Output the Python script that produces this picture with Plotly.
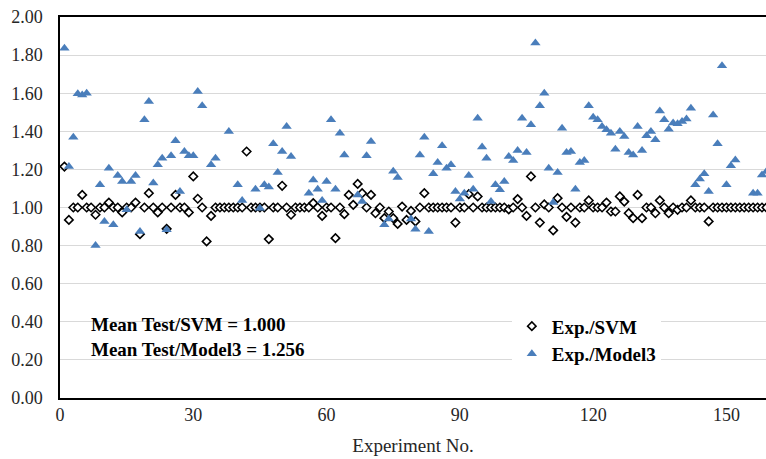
import plotly.graph_objects as go

# Experiment numbers (categories)
experiment_no = list(range(1, 160))

# Exp./SVM ratio per experiment
exp_svm = [
    1.215, 0.935, 1.000, 1.000, 1.066, 1.000, 1.000, 0.962, 1.000, 1.000,
    1.026, 1.000, 1.000, 0.974, 1.000, 1.000, 1.026, 0.860, 1.000, 1.075,
    1.000, 0.974, 1.000, 0.888, 1.000, 1.066, 1.000, 1.000, 0.974, 1.163,
    1.046, 1.000, 0.822, 0.956, 1.000, 1.000, 1.000, 1.000, 1.000, 1.000,
    1.000, 1.294, 1.000, 1.000, 1.000, 1.000, 0.834, 1.000, 1.000, 1.114,
    1.000, 0.962, 1.000, 1.000, 1.000, 1.000, 1.023, 1.000, 0.956, 1.000,
    1.000, 0.839, 1.000, 0.965, 1.066, 1.014, 1.124, 1.075, 1.000, 1.066,
    0.970, 1.000, 0.944, 0.979, 0.944, 0.914, 1.005, 0.935, 0.982, 0.927,
    1.000, 1.075, 1.000, 1.000, 1.000, 1.000, 1.000, 1.000, 0.921, 1.000,
    1.000, 1.070, 1.000, 1.058, 1.000, 1.000, 1.000, 1.000, 1.000, 1.000,
    0.990, 1.000, 1.044, 1.000, 0.956, 1.163, 1.000, 0.921, 1.016, 1.000,
    0.880, 1.049, 1.000, 0.951, 1.000, 0.921, 1.000, 1.000, 1.037, 1.000,
    1.000, 1.000, 1.026, 0.979, 0.979, 1.058, 1.031, 0.970, 0.944, 1.066,
    0.944, 1.000, 1.000, 0.970, 1.037, 1.000, 0.970, 1.000, 0.988, 1.000,
    1.000, 1.037, 1.000, 1.000, 1.000, 0.927, 1.000, 1.000, 1.000, 1.000,
    1.000, 1.000, 1.000, 1.000, 1.000, 1.000, 1.000, 1.000, 1.000,
]

# Exp./Model3 ratio per experiment (None = not shown)
exp_model3 = [
    1.836, 1.215, 1.369, 1.597, 1.591, 1.600, None, 0.800, 1.119, 0.927,
    1.206, 0.909, 1.168, 1.136, 0.988, 1.136, 1.168, 0.874, 1.460, 1.556,
    1.128, 1.224, 1.259, 0.883, 1.271, 1.350, 1.084, 1.294, 1.271, 1.271,
    1.609, 1.534, None, 1.224, 1.259, None, None, 1.399, None, 1.119,
    1.037, None, None, 1.096, 0.996, 1.119, 1.107, 1.334, 1.184, 1.294,
    1.425, 1.268, None, None, None, 1.075, 1.145, 1.096, 1.037, 1.136,
    1.460, 1.096, 1.390, 1.276, None, None, 1.066, 1.031, 1.271, 1.346,
    None, None, 0.909, 0.939, 1.190, 1.158, None, None, 0.939, 0.886,
    1.276, 1.369, 0.874, 1.177, 1.236, 1.324, 1.206, 1.224, 1.084, 1.044,
    1.075, 1.168, 1.096, 1.469, 1.317, 1.259, 1.031, 1.119, 1.093, 1.136,
    1.268, 1.247, 1.299, 1.469, 1.289, 1.434, 1.863, 1.534, 1.600, 1.206,
    1.026, 1.184, 1.416, 1.289, 1.294, 1.096, 1.236, 1.247, 1.534, 1.474,
    1.460, 1.425, 1.408, 1.390, 1.306, 1.399, 1.373, 1.289, 1.276, 1.425,
    1.299, 1.376, 1.399, 1.355, 1.507, 1.460, 1.411, 1.443, 1.439, 1.451,
    1.465, 1.521, 1.119, 1.149, 1.177, 1.084, 1.486, 1.334, 1.744, 1.119,
    1.219, 1.250, None, None, None, 1.075, 1.075, 1.171, 1.189,
]

x_ticks = [0, 30, 60, 90, 120, 150]
series_names = ["Exp./SVM", "Exp./Model3"]
stats_text = ["Mean Test/SVM = 1.000", "Mean Test/Model3 = 1.256"]

SERIF = "Liberation Serif"
BLUE = "#4A7EBB"

fig = go.Figure()
fig.add_trace(go.Scatter(
    x=experiment_no, y=exp_svm, mode="markers", name="<b>" + series_names[0] + "</b>",
    marker=dict(symbol="diamond", size=6.5, color="white",
                line=dict(color="black", width=1.6)),
))
fig.add_trace(go.Scatter(
    x=experiment_no, y=exp_model3, mode="markers", name="<b>" + series_names[1] + "</b>",
    marker=dict(symbol="triangle-up", size=9, color=BLUE, line=dict(width=0)),
))

# white box behind the statistics text (hides gridlines)
fig.add_shape(type="rect", xref="paper", yref="y", x0=0.019, x1=0.456, y0=0.15, y1=0.49,
              fillcolor="white", line=dict(width=0), layer="between")

fig.add_annotation(
    xref="paper", yref="paper", x=0.041, y=0.160, xanchor="left", yanchor="middle",
    text="<b>" + stats_text[0] + "</b><br><b>" + stats_text[1] + "</b>",
    showarrow=False, align="left",
    font=dict(family=SERIF, size=19, color="black"),
)

fig.update_layout(
    template="none",
    width=766, height=459,
    margin=dict(l=60, r=0, t=17, b=61),
    paper_bgcolor="white", plot_bgcolor="white",
    font=dict(family="Times New Roman", color="#262626"),
    showlegend=True,
    legend=dict(x=0.64, y=0.238, xanchor="left", yanchor="top",
                bgcolor="white", borderwidth=0,
                font=dict(family=SERIF, size=19, color="black"),
                itemwidth=30, tracegroupgap=0),
    xaxis=dict(range=[0, 158.9], tickvals=x_ticks, showgrid=False, zeroline=False,
               showline=True, linecolor="black", linewidth=1.5, mirror=True,
               ticks="", tickfont=dict(family="Times New Roman", size=18, color="#262626"),
               title=dict(text="Experiment No.", standoff=14,
                          font=dict(family="serif", size=19, color="#262626"))),
    yaxis=dict(range=[0, 2], dtick=0.2, tickformat=".2f", showgrid=True,
               gridcolor="#d9d9d9", gridwidth=1, zeroline=False,
               showline=True, linecolor="black", linewidth=1.5,
               ticks="", ticklabelstandoff=12,
               tickfont=dict(family=SERIF, size=18, color="#262626")),
)

fig.write_html("out.html", config={"displayModeBar": False})
